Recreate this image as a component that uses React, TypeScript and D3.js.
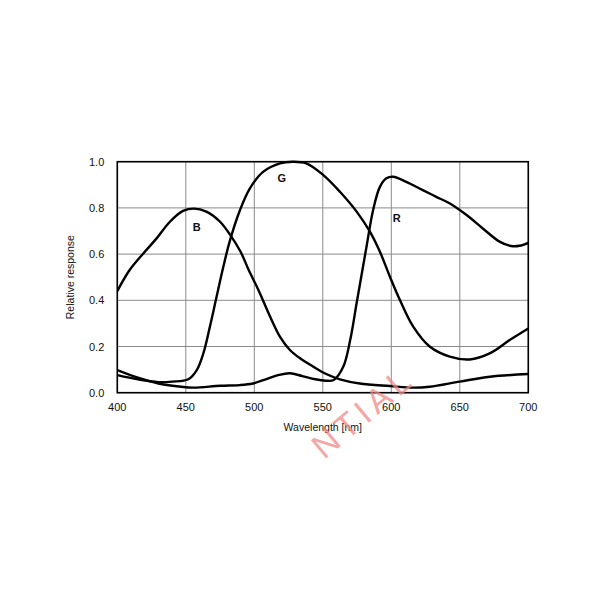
import React from "react";
import * as d3 from "d3";

const xTicks = [400, 450, 500, 550, 600, 650, 700];
const yTicks = [0, 0.2, 0.4, 0.6, 0.8, 1.0];

const blueX = [400, 409, 419, 428.7, 438.4, 448, 456, 465, 475, 482.4, 490, 496, 503, 511.5, 518.8, 526, 533.4, 543, 552.5, 562.5, 577, 599, 616, 628, 650, 672, 700];
const blueY = [0.44, 0.531, 0.603, 0.668, 0.74, 0.787, 0.797, 0.784, 0.74, 0.683, 0.61, 0.53, 0.445, 0.33, 0.242, 0.185, 0.149, 0.113, 0.081, 0.058, 0.04, 0.029, 0.022, 0.026, 0.048, 0.069, 0.081];

const greenX = [400, 415, 430, 440, 451.8, 458, 462.8, 467.6, 472.5, 477.4, 482, 489.5, 496.8, 506.6, 518.7, 528, 538, 550.4, 562.5, 574.7, 584.4, 591.7, 599, 606.3, 616, 628, 642.7, 657.3, 671.8, 686.4, 700];
const greenY = [0.076, 0.058, 0.046, 0.048, 0.058, 0.098, 0.17, 0.286, 0.416, 0.545, 0.654, 0.79, 0.885, 0.957, 0.993, 1.0, 0.993, 0.942, 0.87, 0.784, 0.697, 0.61, 0.502, 0.401, 0.286, 0.2, 0.156, 0.144, 0.17, 0.228, 0.278];

const redX = [400, 415, 430, 445, 455.5, 475, 489.6, 499, 508.4, 518, 526, 535, 544.5, 552, 558, 565, 570, 574.7, 578, 581.9, 586.7, 591.6, 596.4, 601.3, 611, 623, 632.8, 642.5, 654.7, 666.8, 679, 687.5, 693.6, 700];
const redY = [0.098, 0.065, 0.04, 0.027, 0.022, 0.03, 0.033, 0.04, 0.058, 0.077, 0.084, 0.072, 0.058, 0.052, 0.055, 0.113, 0.228, 0.388, 0.5, 0.632, 0.79, 0.89, 0.928, 0.935, 0.913, 0.877, 0.848, 0.82, 0.77, 0.711, 0.654, 0.635, 0.636, 0.649];

const curveLabels = ["B", "G", "R"];
const labelX = [458, 520, 604];
const labelY = [0.7, 0.91, 0.74];

export default function App() {
  const left = 117.3, right = 528.3, top = 161.7, bottom = 392.7;
  const x = d3.scaleLinear().domain([400, 700]).range([left, right]);
  const y = d3.scaleLinear().domain([0, 1]).range([bottom, top]);
  const line = d3
    .line<[number, number]>()
    .x((d) => x(d[0]))
    .y((d) => y(d[1]))
    .curve(d3.curveCatmullRom.alpha(0.5));
  const series = [
    blueX.map((v, i) => [v, blueY[i]] as [number, number]),
    greenX.map((v, i) => [v, greenY[i]] as [number, number]),
    redX.map((v, i) => [v, redY[i]] as [number, number]),
  ];
  const font = "Arial, 'Liberation Sans', sans-serif";
  return (
    <svg
      width={600}
      height={600}
      style={{ position: "absolute", left: 0, top: 0, background: "#fff" }}
    >
      <rect x={0} y={0} width={600} height={600} fill="#fff" />
      {xTicks.map((t) => (
        <line key={"gx" + t} x1={x(t)} x2={x(t)} y1={top} y2={bottom} stroke="#8a8a8a" strokeWidth={1} />
      ))}
      {yTicks.map((t) => (
        <line key={"gy" + t} x1={left} x2={right} y1={y(t)} y2={y(t)} stroke="#8a8a8a" strokeWidth={1} />
      ))}
      <defs>
        <clipPath id="plot">
          <rect x={left} y={top - 2} width={right - left} height={bottom - top + 2} />
        </clipPath>
      </defs>
      <g clipPath="url(#plot)">
        {series.map((s, i) => (
          <path key={i} d={line(s) || ""} fill="none" stroke="#000" strokeWidth={2.4} strokeLinejoin="round" />
        ))}
      </g>
      <rect x={left} y={top} width={right - left} height={bottom - top} fill="none" stroke="#000" strokeWidth={1.6} />
      {xTicks.map((t) => (
        <text key={"tx" + t} x={x(t)} y={bottom + 18} textAnchor="middle" fontFamily={font} fontSize={11} fill="#111">
          {t}
        </text>
      ))}
      {yTicks.map((t) => (
        <text key={"ty" + t} x={left - 13} y={y(t) + 4} textAnchor="end" fontFamily={font} fontSize={11} fill="#111">
          {t.toFixed(1)}
        </text>
      ))}
      <text x={(left + right) / 2} y={bottom + 38} textAnchor="middle" fontFamily={font} fontSize={10.5} fill="#111">
        Wavelength [nm]
      </text>
      <text
        transform={`translate(74, ${(top + bottom) / 2}) rotate(-90)`}
        textAnchor="middle"
        fontFamily={font}
        fontSize={10.5}
        fill="#111"
      >
        Relative response
      </text>
      {curveLabels.map((l, i) => (
        <text key={l} x={x(labelX[i])} y={y(labelY[i])} textAnchor="middle" fontFamily={font} fontSize={11} fontWeight="bold" fill="#111">
          {l}
        </text>
      ))}
      <text
        transform="translate(324, 460) rotate(-40)"
        fontFamily={font}
        fontSize={34}
        letterSpacing={5}
        fill="#f08a8a"
        opacity={0.75}
      >
        NTIAL
      </text>
    </svg>
  );
}
